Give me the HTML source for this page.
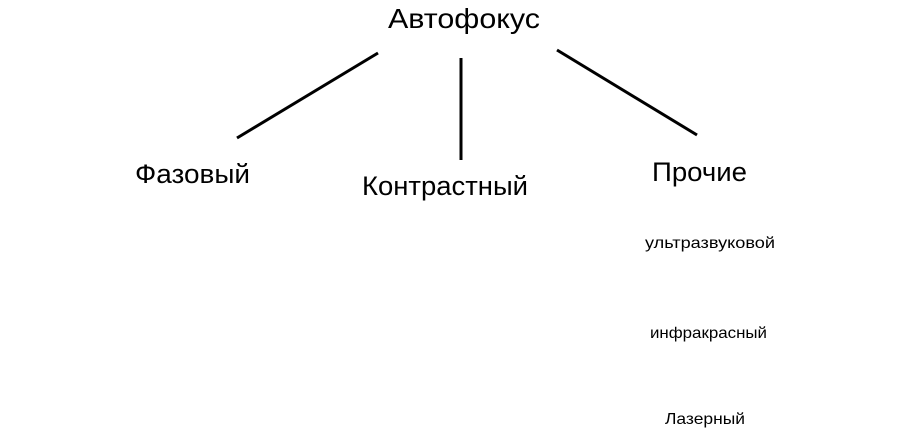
<!DOCTYPE html>
<html><head><meta charset="utf-8"><style>html,body{margin:0;padding:0;background:#fff;}</style></head>
<body>
<svg width="915" height="435" xmlns="http://www.w3.org/2000/svg" font-family="Liberation Sans, DejaVu Sans, sans-serif" fill="#000">
<rect width="915" height="435" fill="#fff"/>
<g stroke="#000" stroke-width="3">
<line x1="378" y1="53" x2="237" y2="138"/>
<line x1="461" y1="58" x2="461" y2="160"/>
<line x1="557" y1="50" x2="697" y2="135"/>
</g>
<text x="388" y="28" font-size="28" textLength="152" lengthAdjust="spacingAndGlyphs">Автофокус</text>
<text x="135" y="183" font-size="27" textLength="115" lengthAdjust="spacingAndGlyphs">Фазовый</text>
<text x="362" y="195" font-size="27" textLength="166" lengthAdjust="spacingAndGlyphs">Контрастный</text>
<text x="652" y="181" font-size="27" textLength="95" lengthAdjust="spacingAndGlyphs">Прочие</text>
<text x="645" y="248" font-size="16" textLength="130" lengthAdjust="spacingAndGlyphs">ультразвуковой</text>
<text x="650" y="338" font-size="16" textLength="117" lengthAdjust="spacingAndGlyphs">инфракрасный</text>
<text x="665" y="424" font-size="16" textLength="80" lengthAdjust="spacingAndGlyphs">Лазерный</text>
</svg>
</body></html>
